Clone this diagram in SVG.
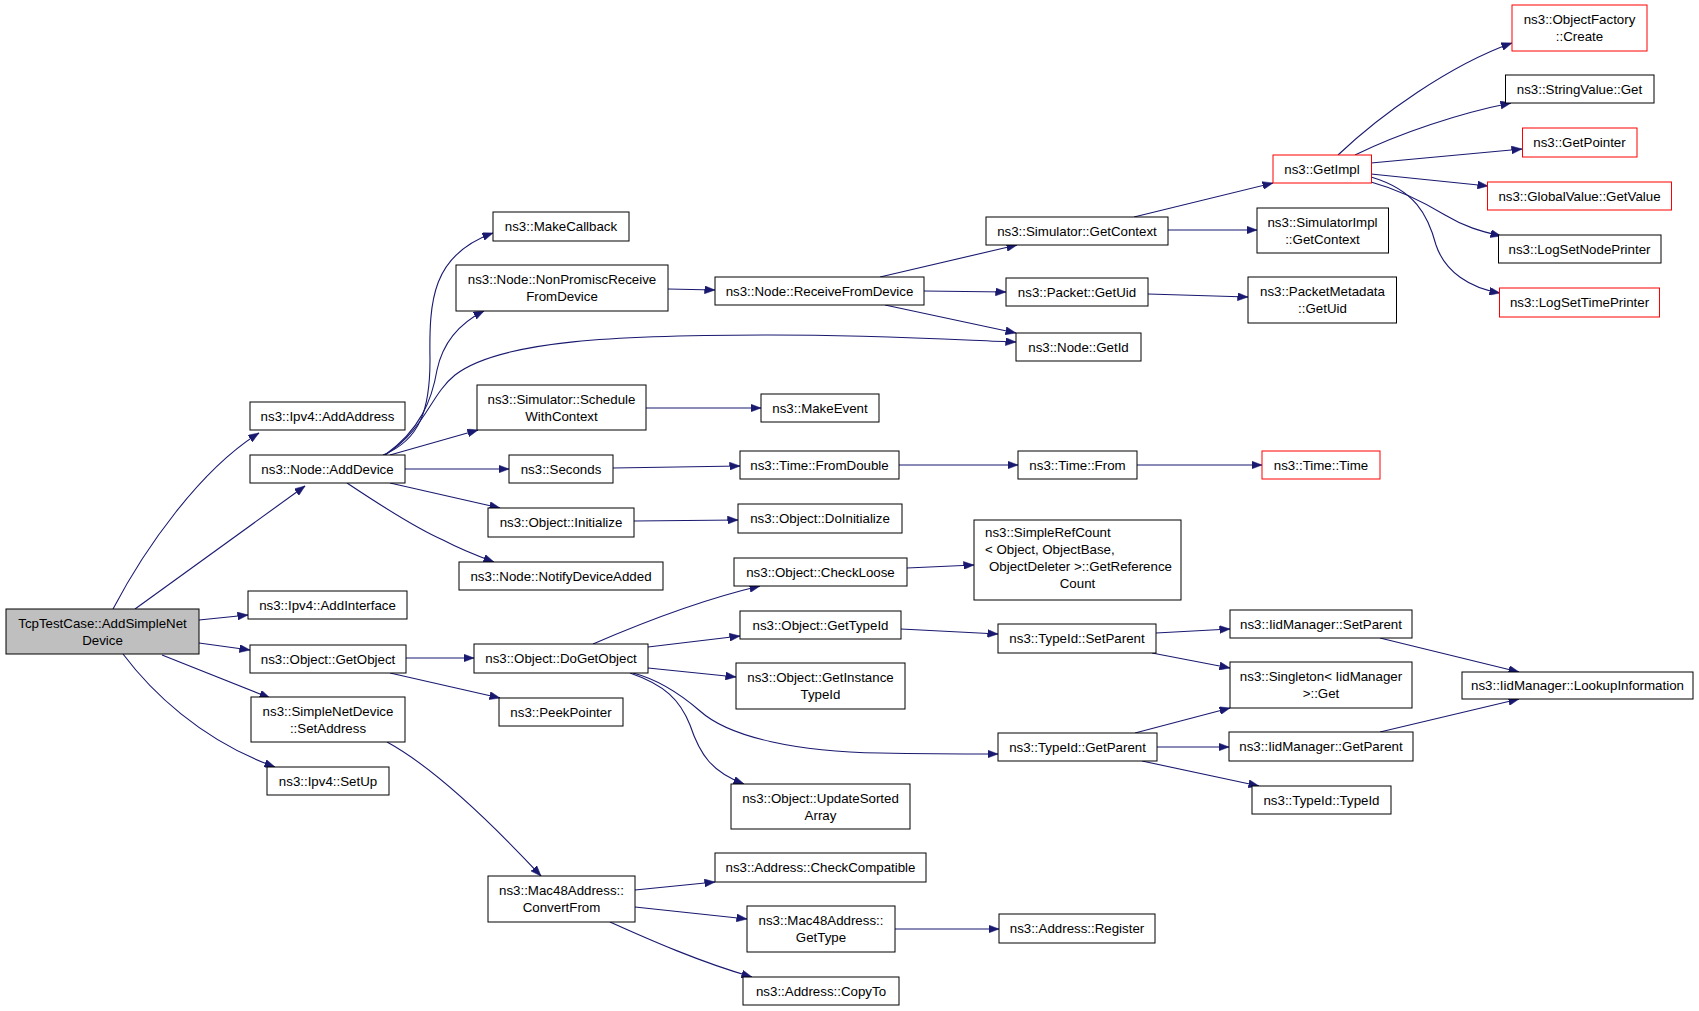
<svg xmlns="http://www.w3.org/2000/svg" width="1699" height="1011" viewBox="0 0 1699 1011">
<style>
.node rect{fill:#ffffff;stroke:#000000;stroke-width:1}
.node.root rect{fill:#bfbfbf}
.node.red rect{stroke:#ff0000}
.node text{font-family:"Liberation Sans",Arial,sans-serif;font-size:13.3px;fill:#000000;text-anchor:middle}
.node text.l{text-anchor:start}
.edges path{fill:none;stroke:#191970;stroke-width:1.1}
</style>
<defs>
<marker id="arr" markerUnits="userSpaceOnUse" markerWidth="11" markerHeight="8" refX="10.5" refY="4" orient="auto">
<path d="M0,0 L10.5,4 L0,8 z" fill="#191970" stroke="#191970" stroke-width="0.5"/>
</marker>
</defs>
<rect x="0" y="0" width="1699" height="1011" fill="#ffffff"/>
<g class="edges">
<path d="M113,609 C145,548 200,470 259,433" marker-end="url(#arr)"/>
<path d="M135,609 L305,486" marker-end="url(#arr)"/>
<path d="M199,620 L248,615" marker-end="url(#arr)"/>
<path d="M199,643 L250,650" marker-end="url(#arr)"/>
<path d="M162,655 L270,698" marker-end="url(#arr)"/>
<path d="M123,654 C150,690 200,740 275,767" marker-end="url(#arr)"/>
<path d="M383,455 C420,440 430,410 430,360 C429,300 432,255 493,233" marker-end="url(#arr)"/>
<path d="M385,455 C420,430 432,400 437,370 C443,342 460,323 484,311" marker-end="url(#arr)"/>
<path d="M385,455 C425,430 430,395 455,375 C500,340 620,335 770,335 C880,335 960,340 1016,342" marker-end="url(#arr)"/>
<path d="M390,455 L478,430" marker-end="url(#arr)"/>
<path d="M405,469 L509,469" marker-end="url(#arr)"/>
<path d="M390,483 L500,508" marker-end="url(#arr)"/>
<path d="M347,483 C380,505 420,530 443,540 C460,549 475,555 494,562" marker-end="url(#arr)"/>
<path d="M668,289 L715,290" marker-end="url(#arr)"/>
<path d="M880,277 L1017,245" marker-end="url(#arr)"/>
<path d="M924,291 L1006,292" marker-end="url(#arr)"/>
<path d="M885,305 L1016,333" marker-end="url(#arr)"/>
<path d="M1134,217 L1273,183" marker-end="url(#arr)"/>
<path d="M1168,230 L1257,230" marker-end="url(#arr)"/>
<path d="M1148,294 L1248,297" marker-end="url(#arr)"/>
<path d="M1338,155 C1380,115 1450,65 1512,43" marker-end="url(#arr)"/>
<path d="M1355,155 C1400,133 1460,113 1511,103" marker-end="url(#arr)"/>
<path d="M1371,163 L1522,149" marker-end="url(#arr)"/>
<path d="M1371,174 L1488,186" marker-end="url(#arr)"/>
<path d="M1371,182 C1400,190 1425,203 1445,215 C1465,227 1480,231 1501,236" marker-end="url(#arr)"/>
<path d="M1371,177 C1415,190 1428,215 1436,245 C1445,272 1470,288 1500,293" marker-end="url(#arr)"/>
<path d="M646,408 L761,408" marker-end="url(#arr)"/>
<path d="M613,468 L740,466" marker-end="url(#arr)"/>
<path d="M899,465 L1018,465" marker-end="url(#arr)"/>
<path d="M1137,465 L1262,465" marker-end="url(#arr)"/>
<path d="M634,521 L738,520" marker-end="url(#arr)"/>
<path d="M406,658 L474,658" marker-end="url(#arr)"/>
<path d="M390,673 L500,698" marker-end="url(#arr)"/>
<path d="M593,644 C630,628 700,600 760,586" marker-end="url(#arr)"/>
<path d="M648,647 L740,636" marker-end="url(#arr)"/>
<path d="M648,668 L736,677" marker-end="url(#arr)"/>
<path d="M633,673 C660,680 685,698 700,711 C730,738 800,752 880,753 C930,754 970,754 998,754" marker-end="url(#arr)"/>
<path d="M630,673 C665,685 680,700 690,725 C700,755 712,772 744,784" marker-end="url(#arr)"/>
<path d="M907,568 L974,565" marker-end="url(#arr)"/>
<path d="M901,629 L998,634" marker-end="url(#arr)"/>
<path d="M1156,633 L1230,629" marker-end="url(#arr)"/>
<path d="M1152,653 L1230,668" marker-end="url(#arr)"/>
<path d="M1135,733 L1230,708" marker-end="url(#arr)"/>
<path d="M1157,747 L1229,747" marker-end="url(#arr)"/>
<path d="M1142,761 L1259,786" marker-end="url(#arr)"/>
<path d="M1380,638 L1519,672" marker-end="url(#arr)"/>
<path d="M1380,732 L1519,699" marker-end="url(#arr)"/>
<path d="M387,742 C420,760 470,800 541,876" marker-end="url(#arr)"/>
<path d="M635,890 L715,882" marker-end="url(#arr)"/>
<path d="M635,907 L747,919" marker-end="url(#arr)"/>
<path d="M610,922 C650,940 700,962 752,977" marker-end="url(#arr)"/>
<path d="M895,929 L999,929" marker-end="url(#arr)"/>
</g>
<g id="n_tcp" class="node root"><rect x="6" y="609" width="193" height="45"/><text x="102.5" y="627.5">TcpTestCase::AddSimpleNet</text><text x="102.5" y="644.5">Device</text></g>
<g id="n_addaddress" class="node"><rect x="250" y="402" width="155" height="28"/><text x="327.5" y="420.5">ns3::Ipv4::AddAddress</text></g>
<g id="n_adddevice" class="node"><rect x="250" y="455" width="155" height="28"/><text x="327.5" y="473.5">ns3::Node::AddDevice</text></g>
<g id="n_addinterface" class="node"><rect x="248" y="591" width="159" height="28"/><text x="327.5" y="609.5">ns3::Ipv4::AddInterface</text></g>
<g id="n_getobject" class="node"><rect x="250" y="645" width="156" height="28"/><text x="328" y="663.5">ns3::Object::GetObject</text></g>
<g id="n_setaddress" class="node"><rect x="251" y="697" width="154" height="45"/><text x="328" y="715.5">ns3::SimpleNetDevice</text><text x="328" y="732.5">::SetAddress</text></g>
<g id="n_setup" class="node"><rect x="267" y="767" width="122" height="28"/><text x="328" y="785.5">ns3::Ipv4::SetUp</text></g>
<g id="n_makecallback" class="node"><rect x="493" y="212" width="136" height="29"/><text x="561" y="231">ns3::MakeCallback</text></g>
<g id="n_nonpromisc" class="node"><rect x="456" y="265" width="212" height="46"/><text x="562" y="284">ns3::Node::NonPromiscReceive</text><text x="562" y="301">FromDevice</text></g>
<g id="n_schedule" class="node"><rect x="477" y="385" width="169" height="45"/><text x="561.5" y="403.5">ns3::Simulator::Schedule</text><text x="561.5" y="420.5">WithContext</text></g>
<g id="n_seconds" class="node"><rect x="509" y="455" width="104" height="28"/><text x="561" y="473.5">ns3::Seconds</text></g>
<g id="n_initialize" class="node"><rect x="488" y="508" width="146" height="29"/><text x="561" y="527">ns3::Object::Initialize</text></g>
<g id="n_notify" class="node"><rect x="459" y="562" width="204" height="28"/><text x="561" y="580.5">ns3::Node::NotifyDeviceAdded</text></g>
<g id="n_dogetobject" class="node"><rect x="474" y="644" width="174" height="29"/><text x="561" y="663">ns3::Object::DoGetObject</text></g>
<g id="n_peekpointer" class="node"><rect x="499" y="698" width="124" height="28"/><text x="561" y="716.5">ns3::PeekPointer</text></g>
<g id="n_convertfrom" class="node"><rect x="488" y="876" width="147" height="46"/><text x="561.5" y="895">ns3::Mac48Address::</text><text x="561.5" y="912">ConvertFrom</text></g>
<g id="n_receive" class="node"><rect x="715" y="277" width="209" height="28"/><text x="819.5" y="295.5">ns3::Node::ReceiveFromDevice</text></g>
<g id="n_makeevent" class="node"><rect x="761" y="394" width="118" height="28"/><text x="820" y="412.5">ns3::MakeEvent</text></g>
<g id="n_fromdouble" class="node"><rect x="740" y="451" width="159" height="28"/><text x="819.5" y="469.5">ns3::Time::FromDouble</text></g>
<g id="n_doinitialize" class="node"><rect x="738" y="504" width="164" height="29"/><text x="820" y="523">ns3::Object::DoInitialize</text></g>
<g id="n_checkloose" class="node"><rect x="734" y="558" width="173" height="28"/><text x="820.5" y="576.5">ns3::Object::CheckLoose</text></g>
<g id="n_gettypeid" class="node"><rect x="740" y="611" width="161" height="28"/><text x="820.5" y="629.5">ns3::Object::GetTypeId</text></g>
<g id="n_getinstance" class="node"><rect x="736" y="663" width="169" height="46"/><text x="820.5" y="682">ns3::Object::GetInstance</text><text x="820.5" y="699">TypeId</text></g>
<g id="n_updatesorted" class="node"><rect x="731" y="784" width="179" height="45"/><text x="820.5" y="802.5">ns3::Object::UpdateSorted</text><text x="820.5" y="819.5">Array</text></g>
<g id="n_checkcompat" class="node"><rect x="715" y="853" width="211" height="29"/><text x="820.5" y="872">ns3::Address::CheckCompatible</text></g>
<g id="n_mac48gettype" class="node"><rect x="747" y="906" width="148" height="46"/><text x="821" y="925">ns3::Mac48Address::</text><text x="821" y="942">GetType</text></g>
<g id="n_copyto" class="node"><rect x="743" y="977" width="156" height="28"/><text x="821" y="995.5">ns3::Address::CopyTo</text></g>
<g id="n_simgetcontext" class="node"><rect x="986" y="217" width="182" height="28"/><text x="1077" y="235.5">ns3::Simulator::GetContext</text></g>
<g id="n_packetgetuid" class="node"><rect x="1006" y="278" width="142" height="28"/><text x="1077" y="296.5">ns3::Packet::GetUid</text></g>
<g id="n_nodegetid" class="node"><rect x="1016" y="333" width="125" height="28"/><text x="1078.5" y="351.5">ns3::Node::GetId</text></g>
<g id="n_timefrom" class="node"><rect x="1018" y="451" width="119" height="28"/><text x="1077.5" y="469.5">ns3::Time::From</text></g>
<g id="n_simplerefcount" class="node"><rect x="974" y="520" width="207" height="80"/><text class="l" x="985" y="537">ns3::SimpleRefCount</text><text class="l" x="985" y="554">&lt; Object, ObjectBase,</text><text class="l" x="989" y="571">ObjectDeleter &gt;::GetReference</text><text x="1077.5" y="588">Count</text></g>
<g id="n_typeidsetparent" class="node"><rect x="998" y="624" width="158" height="29"/><text x="1077" y="643">ns3::TypeId::SetParent</text></g>
<g id="n_typeidgetparent" class="node"><rect x="998" y="733" width="159" height="28"/><text x="1077.5" y="751.5">ns3::TypeId::GetParent</text></g>
<g id="n_register" class="node"><rect x="999" y="914" width="156" height="29"/><text x="1077" y="933">ns3::Address::Register</text></g>
<g id="n_getimpl" class="node red"><rect x="1273" y="155" width="98.5" height="28"/><text x="1322" y="173.5">ns3::GetImpl</text></g>
<g id="n_simimplgetcontext" class="node"><rect x="1257" y="208" width="131.5" height="45"/><text x="1322.5" y="226.5">ns3::SimulatorImpl</text><text x="1322.5" y="243.5">::GetContext</text></g>
<g id="n_packetmetadata" class="node"><rect x="1248" y="277" width="148.5" height="46"/><text x="1322.5" y="296">ns3::PacketMetadata</text><text x="1322.5" y="313">::GetUid</text></g>
<g id="n_timetime" class="node red"><rect x="1262" y="451" width="118" height="28"/><text x="1321" y="469.5">ns3::Time::Time</text></g>
<g id="n_iidsetparent" class="node"><rect x="1230" y="610" width="182" height="28"/><text x="1321" y="628.5">ns3::IidManager::SetParent</text></g>
<g id="n_singleton" class="node"><rect x="1230" y="662" width="182" height="46"/><text x="1321" y="681">ns3::Singleton&lt; IidManager</text><text x="1321" y="698">&gt;::Get</text></g>
<g id="n_iidgetparent" class="node"><rect x="1229" y="732" width="184" height="29"/><text x="1321" y="751">ns3::IidManager::GetParent</text></g>
<g id="n_typeidtypeid" class="node"><rect x="1252" y="786" width="139" height="28"/><text x="1321.5" y="804.5">ns3::TypeId::TypeId</text></g>
<g id="n_objfactory" class="node red"><rect x="1512" y="5" width="135" height="46"/><text x="1579.5" y="24">ns3::ObjectFactory</text><text x="1579.5" y="41">::Create</text></g>
<g id="n_stringvalue" class="node"><rect x="1505.5" y="75" width="148.5" height="28"/><text x="1579.5" y="93.5">ns3::StringValue::Get</text></g>
<g id="n_getpointer" class="node red"><rect x="1522.5" y="128" width="114.5" height="29"/><text x="1579.5" y="147">ns3::GetPointer</text></g>
<g id="n_globalvalue" class="node red"><rect x="1487.5" y="182" width="184" height="28"/><text x="1579.5" y="200.5">ns3::GlobalValue::GetValue</text></g>
<g id="n_lognode" class="node"><rect x="1498.5" y="235" width="162.5" height="28"/><text x="1579.5" y="253.5">ns3::LogSetNodePrinter</text></g>
<g id="n_logtime" class="node red"><rect x="1499.5" y="288" width="160" height="29"/><text x="1579.5" y="307">ns3::LogSetTimePrinter</text></g>
<g id="n_lookup" class="node"><rect x="1462" y="672" width="231" height="27"/><text x="1577.5" y="690">ns3::IidManager::LookupInformation</text></g>
</svg>
